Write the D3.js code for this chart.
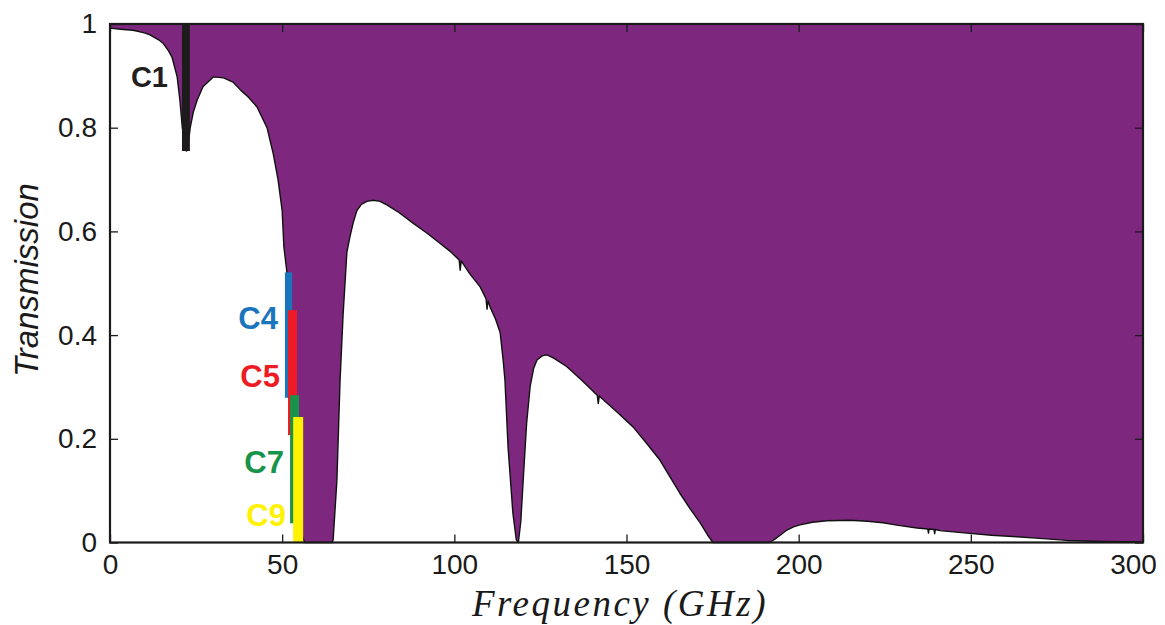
<!DOCTYPE html>
<html>
<head>
<meta charset="utf-8">
<script src="https://cdn.jsdelivr.net/npm/d3@7"></script>
<style>
  html, body { margin: 0; padding: 0; background: #ffffff; }
  svg { display: block; }
</style>
</head>
<body>
<svg id="chart" width="1165" height="625"></svg>
<script>
// ---------------- data ----------------
const freq = [0, 3, 6.7, 10, 11.6, 14, 15.4, 17, 18, 19.5, 20.3, 21, 21.8, 22.2, 22.6, 23.3, 24.2, 25.3, 27, 30,
  33, 35.7, 38, 40, 42.7, 45.6, 47.4, 48.8, 50, 50.5, 51.4, 52.5, 53.5, 54.5, 55.5, 56.5,
  64.5, 64.8, 65.9, 66.8, 67.7, 68.8, 69.7, 70.6, 71.7, 73, 74.6, 76.5, 78.4, 80.4, 84, 88, 92, 95.8, 98.7,
  101.4, 101.7, 102.0, 104.5, 107.5, 109.2, 109.5, 109.8, 110.4, 112, 113.3, 114.2, 114.7, 115.6, 117, 118, 118.6,
  119.3, 120, 121, 122, 123, 124, 125.5, 126.9, 129, 132.7, 137, 141.5, 141.8, 142.1, 142.3, 147, 151.9, 156,
  159.7, 162.5, 165.5, 168.5, 171.4, 173.5, 175.1, 191.5, 193, 195, 196.6, 198.5, 200.4, 204, 208.2, 215, 220,
  224.5, 229, 234.4, 237.5, 237.7, 237.9, 239.3, 239.5, 239.7, 241, 248.9, 256, 263.4, 270, 278, 288, 300];
const trans = [0.992, 0.990, 0.988, 0.983, 0.979, 0.970, 0.963, 0.948, 0.936, 0.898, 0.853, 0.800, 0.765, 0.755, 0.762, 0.800, 0.830, 0.853, 0.879, 0.898,
  0.896, 0.888, 0.872, 0.860, 0.840, 0.800, 0.750, 0.700, 0.640, 0.570, 0.520, 0.400, 0.250, 0.100, 0.020, 0.000,
  0.000, 0.005, 0.120, 0.310, 0.440, 0.560, 0.590, 0.616, 0.640, 0.652, 0.658, 0.660, 0.658, 0.651, 0.636, 0.616, 0.597, 0.577, 0.562,
  0.545, 0.525, 0.543, 0.518, 0.493, 0.470, 0.450, 0.466, 0.454, 0.430, 0.405, 0.350, 0.313, 0.184, 0.057, 0.005, 0.000,
  0.040, 0.120, 0.230, 0.300, 0.335, 0.352, 0.360, 0.362, 0.355, 0.339, 0.313, 0.284, 0.268, 0.283, 0.281, 0.253, 0.223, 0.190,
  0.159, 0.128, 0.095, 0.065, 0.038, 0.015, 0.000, 0.000, 0.006, 0.016, 0.024, 0.030, 0.034, 0.039, 0.042, 0.043, 0.041,
  0.038, 0.033, 0.028, 0.026, 0.018, 0.026, 0.025, 0.017, 0.025, 0.023, 0.018, 0.014, 0.011, 0.008, 0.004, 0.002, 0.001];

// marked bands (GHz range and transmission range)
const bandNames = ["C1", "C4", "C5", "C7", "C9"];
const bandF0 = [20.9, 50.8, 51.7, 52.3, 53.2];
const bandF1 = [23.2, 52.9, 54.3, 54.9, 56.1];
const bandT0 = [0.755, 0.279, 0.207, 0.037, 0.000];
const bandT1 = [1.000, 0.521, 0.448, 0.284, 0.242];
const bandColors = ["#1e1b1c", "#1b75bc", "#ed1c24", "#17934a", "#fff200"];
const labelColors = ["#231f20", "#1b75bc", "#ed1c24", "#17934a", "#fff200"];

const xTicks = [0, 50, 100, 150, 200, 250, 300];
const yTicks = [0, 0.2, 0.4, 0.6, 0.8, 1];
const yTickLabels = ["0", "0.2", "0.4", "0.6", "0.8", "1"];

// ---------------- layout ----------------
const M = { left: 110, top: 24, right: 1143, bottom: 542.5 };
const labelLayout = [ // label pixel placement: right edge, vertical centre, font size
  { xEnd: 168, yMid: 77, size: 29 },
  { xEnd: 278, yMid: 318, size: 31 },
  { xEnd: 280, yMid: 376, size: 31 },
  { xEnd: 284, yMid: 462, size: 31 },
  { xEnd: 286, yMid: 515, size: 31 }
];
const purple = "#7d287e";

const svg = d3.select("#chart");
const x = d3.scaleLinear().domain([0, 300]).range([M.left, M.right]);
const y = d3.scaleLinear().domain([0, 1]).range([M.bottom, M.top]);

const pts = freq.map((f, i) => [f, trans[i]]);

// purple absorption area (from curve up to 1)
svg.append("path")
  .datum(pts)
  .attr("fill", purple)
  .attr("d", d3.area().x(d => x(d[0])).y0(y(1)).y1(d => y(d[1])));

// curve outline
svg.append("path")
  .datum(pts)
  .attr("fill", "none")
  .attr("stroke", "#111")
  .attr("stroke-width", 1.4)
  .attr("stroke-linejoin", "round")
  .attr("d", d3.line().x(d => x(d[0])).y(d => y(d[1])));

// bands
bandNames.forEach((name, i) => {
  svg.append("rect")
    .attr("x", x(bandF0[i]))
    .attr("width", x(bandF1[i]) - x(bandF0[i]))
    .attr("y", y(bandT1[i]))
    .attr("height", y(bandT0[i]) - y(bandT1[i]))
    .attr("fill", bandColors[i]);
  svg.append("text")
    .attr("x", labelLayout[i].xEnd)
    .attr("y", labelLayout[i].yMid)
    .attr("dy", "0.36em")
    .attr("text-anchor", "end")
    .attr("font-family", "Liberation Sans, Arial, sans-serif")
    .attr("font-weight", "bold")
    .attr("font-size", labelLayout[i].size)
    .attr("fill", labelColors[i])
    .text(name);
});

// axes (inward ticks)
const tickLen = 8;
const gx = svg.append("g").attr("transform", `translate(0,${M.bottom})`)
  .call(d3.axisBottom(x).tickValues(xTicks).tickSizeInner(-tickLen).tickSizeOuter(0).tickPadding(12).tickFormat(d3.format("d")));
const gy = svg.append("g").attr("transform", `translate(${M.left},0)`)
  .call(d3.axisLeft(y).tickValues(yTicks).tickSizeInner(-tickLen).tickSizeOuter(0).tickPadding(13).tickFormat((d, i) => yTickLabels[i]));
const gxt = svg.append("g").attr("transform", `translate(0,${M.top})`)
  .call(d3.axisTop(x).tickValues(xTicks).tickSizeInner(-tickLen).tickSizeOuter(0).tickFormat(""));
const gyr = svg.append("g").attr("transform", `translate(${M.right},0)`)
  .call(d3.axisRight(y).tickValues(yTicks).tickSizeInner(-tickLen).tickSizeOuter(0).tickFormat(""));
[gx, gy, gxt, gyr].forEach(g => {
  g.select(".domain").remove();
  g.selectAll("line").attr("stroke", "#1a1a1a").attr("stroke-width", 1.3);
  g.selectAll("text")
    .attr("font-family", "Liberation Sans, Arial, sans-serif")
    .attr("font-size", 28)
    .attr("fill", "#1a1a1a");
});
// keep the last x label inside the page, as in the reference
gx.selectAll(".tick text").filter(d => d === 300).attr("dx", -10);

// frame
svg.append("rect")
  .attr("x", M.left).attr("y", M.top)
  .attr("width", M.right - M.left).attr("height", M.bottom - M.top)
  .attr("fill", "none").attr("stroke", "#1a1a1a").attr("stroke-width", 2.2);

// axis titles
svg.append("text")
  .attr("x", 620)
  .attr("y", 616)
  .attr("text-anchor", "middle")
  .attr("font-family", "Liberation Serif, Times New Roman, serif")
  .attr("font-style", "italic")
  .attr("font-size", 37)
  .attr("letter-spacing", 2.5)
  .attr("fill", "#1a1a1a")
  .text("Frequency (GHz)");

svg.append("text")
  .attr("transform", `translate(38,280) rotate(-90)`)
  .attr("text-anchor", "middle")
  .attr("font-family", "Liberation Sans, Arial, sans-serif")
  .attr("font-style", "italic")
  .attr("font-size", 33)
  .attr("fill", "#1a1a1a")
  .text("Transmission");
</script>
</body>
</html>
